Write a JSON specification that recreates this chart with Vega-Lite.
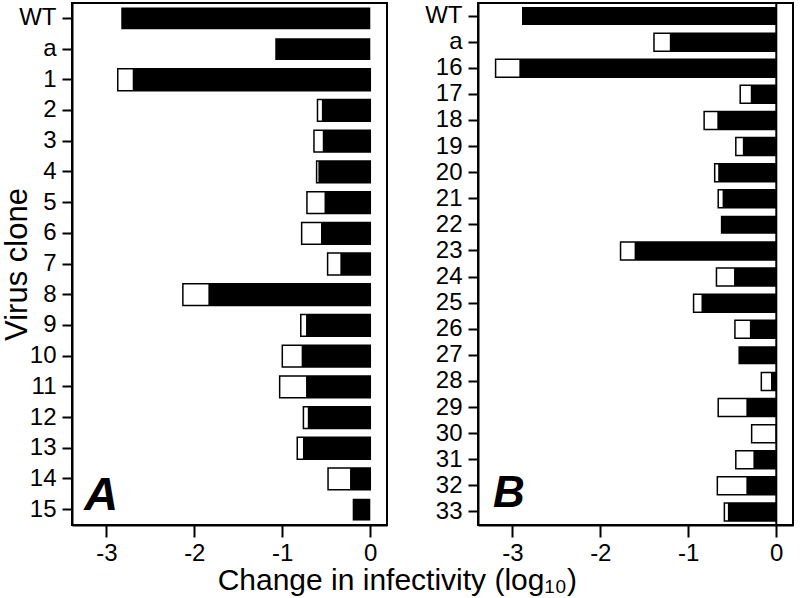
{
  "$schema": "https://vega.github.io/schema/vega-lite/v6.json",
  "padding": {"left": 0, "top": 1, "right": 1, "bottom": 0},
  "background": "white",
  "title": {"text": "Change in infectivity (log₁₀)", "orient": "bottom", "anchor": "middle", "fontSize": 30, "fontWeight": "normal", "font": "Liberation Sans", "color": "black", "offset": 0},
  "spacing": 35,
  "config": {
    "font": "Liberation Sans",
    "view": {"stroke": "black", "strokeWidth": 2},
    "axis": {"grid": false, "domainColor": "black", "domainWidth": 2, "tickColor": "black", "tickWidth": 2, "labelColor": "black", "labelFont": "Liberation Sans", "labelFontSize": 24, "titleFont": "Liberation Sans", "titleColor": "black", "titleFontWeight": "normal"}
  },
  "hconcat": [
    {
      "width": 315,
      "height": 522,
      "data": {"values": [
        {"clone": "WT", "black": -2.83, "total": null},
        {"clone": "a", "black": -1.08, "total": null},
        {"clone": "1", "black": -2.70, "total": -2.87},
        {"clone": "2", "black": -0.55, "total": -0.60},
        {"clone": "3", "black": -0.54, "total": -0.64},
        {"clone": "4", "black": -0.59, "total": -0.61},
        {"clone": "5", "black": -0.52, "total": -0.72},
        {"clone": "6", "black": -0.56, "total": -0.78},
        {"clone": "7", "black": -0.34, "total": -0.485},
        {"clone": "8", "black": -1.84, "total": -2.13},
        {"clone": "9", "black": -0.73, "total": -0.79},
        {"clone": "10", "black": -0.78, "total": -1.00},
        {"clone": "11", "black": -0.73, "total": -1.03},
        {"clone": "12", "black": -0.71, "total": -0.76},
        {"clone": "13", "black": -0.765, "total": -0.83},
        {"clone": "14", "black": -0.23, "total": -0.48},
        {"clone": "15", "black": -0.20, "total": null}
      ]},
      "encoding": {
        "y": {"field": "clone", "type": "nominal", "sort": ["WT", "a", "1", "2", "3", "4", "5", "6", "7", "8", "9", "10", "11", "12", "13", "14", "15"], "scale": {"paddingInner": 0.29}, "axis": {"title": "Virus clone", "titleFontSize": 31, "titlePadding": -15, "tickSize": 10, "labelPadding": 6, "labelFontSize": 24}}
      },
      "layer": [
        {
          "mark": {"type": "bar", "fill": "white", "stroke": "black", "strokeWidth": 1.5},
          "encoding": {
            "x": {"field": "total", "type": "quantitative", "scale": {"domain": [-3.39, 0.19], "nice": false, "zero": false}, "axis": {"title": null, "values": [-3, -2, -1, 0], "tickSize": 12, "labelPadding": 4, "labelFontSize": 24, "labelExpr": "'' + datum.value"}},
            "x2": {"datum": 0}
          }
        },
        {
          "mark": {"type": "bar", "fill": "black"},
          "encoding": {
            "x": {"field": "black", "type": "quantitative"},
            "x2": {"datum": 0}
          }
        },
        {
          "data": {"values": [{"clone": "15", "lab": "A", "pos": -3.25}]},
          "mark": {"type": "text", "font": "Liberation Sans", "fontStyle": "italic", "fontWeight": "bold", "fontSize": 47, "align": "left", "baseline": "alphabetic", "color": "black"},
          "encoding": {
            "x": {"field": "pos", "type": "quantitative"},
            "text": {"field": "lab"}
          }
        }
      ]
    },
    {
      "width": 315,
      "height": 522,
      "data": {"values": [
        {"clone": "WT", "black": -2.89, "total": null},
        {"clone": "a", "black": -1.21, "total": -1.39},
        {"clone": "16", "black": -2.92, "total": -3.19},
        {"clone": "17", "black": -0.29, "total": -0.41},
        {"clone": "18", "black": -0.67, "total": -0.82},
        {"clone": "19", "black": -0.38, "total": -0.46},
        {"clone": "20", "black": -0.66, "total": -0.70},
        {"clone": "21", "black": -0.61, "total": -0.66},
        {"clone": "22", "black": -0.63, "total": null},
        {"clone": "23", "black": -1.61, "total": -1.77},
        {"clone": "24", "black": -0.48, "total": -0.68},
        {"clone": "25", "black": -0.85, "total": -0.94},
        {"clone": "26", "black": -0.30, "total": -0.47},
        {"clone": "27", "black": -0.43, "total": null},
        {"clone": "28", "black": -0.06, "total": -0.17},
        {"clone": "29", "black": -0.34, "total": -0.66},
        {"clone": "30", "black": null, "total": -0.28},
        {"clone": "31", "black": -0.26, "total": -0.46},
        {"clone": "32", "black": -0.34, "total": -0.67},
        {"clone": "33", "black": -0.55, "total": -0.59}
      ]},
      "encoding": {
        "y": {"field": "clone", "type": "nominal", "sort": ["WT", "a", "16", "17", "18", "19", "20", "21", "22", "23", "24", "25", "26", "27", "28", "29", "30", "31", "32", "33"], "scale": {"paddingInner": 0.31}, "axis": {"title": null, "tickSize": 10, "labelPadding": 6, "labelFontSize": 24}}
      },
      "layer": [
        {
          "mark": {"type": "bar", "fill": "white", "stroke": "black", "strokeWidth": 1.5},
          "encoding": {
            "x": {"field": "total", "type": "quantitative", "scale": {"domain": [-3.39, 0.19], "nice": false, "zero": false}, "axis": {"title": null, "values": [-3, -2, -1, 0], "tickSize": 12, "labelPadding": 4, "labelFontSize": 24, "labelExpr": "'' + datum.value"}},
            "x2": {"datum": 0}
          }
        },
        {
          "mark": {"type": "bar", "fill": "black"},
          "encoding": {
            "x": {"field": "black", "type": "quantitative"},
            "x2": {"datum": 0}
          }
        },
        {
          "data": {"values": [{"zero": 0}]},
          "mark": {"type": "rule", "color": "black", "strokeWidth": 2},
          "encoding": {"x": {"field": "zero", "type": "quantitative"}, "y": {"value": 0}, "y2": {"value": 522}}
        },
        {
          "data": {"values": [{"clone": "33", "lab": "B", "pos": -3.22}]},
          "mark": {"type": "text", "font": "Liberation Sans", "fontStyle": "italic", "fontWeight": "bold", "fontSize": 44, "align": "left", "baseline": "alphabetic", "dy": -5, "color": "black"},
          "encoding": {
            "x": {"field": "pos", "type": "quantitative"},
            "text": {"field": "lab"}
          }
        }
      ]
    }
  ]
}
